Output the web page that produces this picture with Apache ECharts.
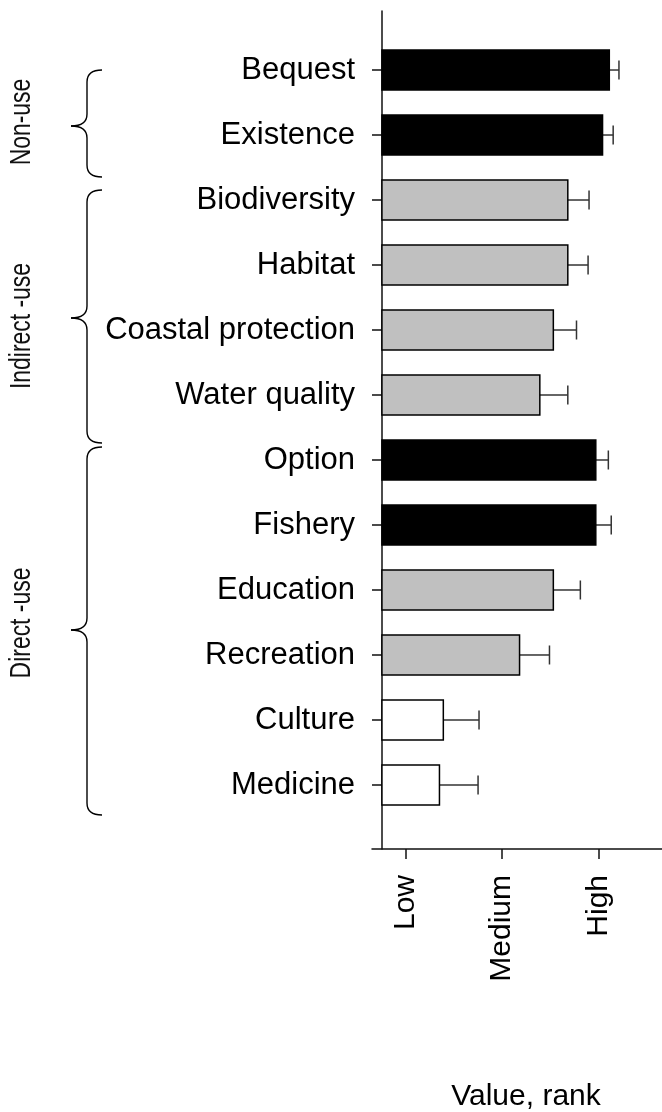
<!DOCTYPE html>
<html>
<head>
<meta charset="utf-8">
<script src="https://cdn.jsdelivr.net/npm/echarts@6/dist/echarts.min.js"></script>
<style>html,body{margin:0;padding:0;background:#fff;}#chart{width:662px;height:1112px;}</style>
</head>
<body>
<div id="chart"></div>
<script>
// ---- data ----
const categories = ['Bequest','Existence','Biodiversity','Habitat','Coastal protection','Water quality','Option','Fishery','Education','Recreation','Culture','Medicine'];
const values = [3.11, 3.04, 2.68, 2.68, 2.53, 2.39, 2.97, 2.97, 2.53, 2.18, 1.39, 1.35];
const errors = [0.10, 0.11, 0.22, 0.21, 0.24, 0.29, 0.13, 0.16, 0.28, 0.31, 0.37, 0.40];
const rankClass = ['high','high','mid','mid','mid','mid','high','high','mid','mid','low','low'];
const tickValues = [1, 2, 3];
const tickLabels = ['Low', 'Medium', 'High'];
const groups = ['Non-use', 'Indirect -use', 'Direct -use'];

const fills = {high: '#000000', mid: '#c0c0c0', low: '#ffffff'};
const BASE = 0.754;
const FONT = "'Liberation Sans', Arial, sans-serif";

const data = values.map((v, i) => [v, i, errors[i], i]);

const chart = echarts.init(document.getElementById('chart'), null, {renderer: 'canvas'});

function brace(y0, ym, y1) {
  const xl = 87, xr = 102, xt = 71, r = 12;
  const st = {stroke: '#000', lineWidth: 1.4, fill: null};
  return {type: 'group', children: [
    {type: 'bezierCurve', shape: {x1: xr, y1: y0, cpx1: xl, cpy1: y0, x2: xl, y2: y0 + r}, style: st},
    {type: 'line', shape: {x1: xl, y1: y0 + r, x2: xl, y2: ym - r}, style: st},
    {type: 'bezierCurve', shape: {x1: xl, y1: ym - r, cpx1: xl, cpy1: ym, x2: xt, y2: ym}, style: st},
    {type: 'bezierCurve', shape: {x1: xt, y1: ym, cpx1: xl, cpy1: ym, x2: xl, y2: ym + r}, style: st},
    {type: 'line', shape: {x1: xl, y1: ym + r, x2: xl, y2: y1 - r}, style: st},
    {type: 'bezierCurve', shape: {x1: xl, y1: y1 - r, cpx1: xl, cpy1: y1, x2: xr, y2: y1}, style: st}
  ]};
}

const braceSpecs = [
  {y0: 70, ym: 126, y1: 177, label: groups[0], ty: 122},
  {y0: 190, ym: 318, y1: 443, label: groups[1], ty: 326},
  {y0: 447, ym: 630, y1: 815, label: groups[2], ty: 623}
];

const graphics = [];
braceSpecs.forEach(b => {
  graphics.push(brace(b.y0, b.ym, b.y1));
  graphics.push({type: 'text', x: 22, y: b.ty, rotation: Math.PI / 2, scaleX: 0.79,
    style: {text: b.label, font: '29px ' + FONT, fill: '#111', textAlign: 'center', textVerticalAlign: 'middle'}});
});
graphics.push({type: 'text', x: 526, y: 1097,
  style: {text: 'Value, rank', font: '30px ' + FONT, fill: '#000', textAlign: 'center', textVerticalAlign: 'middle'}});

const option = {
  animation: false,
  backgroundColor: '#fff',
  grid: {left: 372, right: 0, top: 11, height: 838},
  xAxis: {
    type: 'value', min: 0.651, max: 3.656,
    splitLine: {show: false},
    axisLine: {show: true, onZero: false, lineStyle: {color: '#111', width: 1.5}},
    axisTick: {show: true, length: 10, customValues: tickValues, lineStyle: {color: '#111', width: 1.5}},
    axisLabel: {show: true, customValues: tickValues, rotate: 90, margin: 26,
      formatter: v => tickLabels[tickValues.indexOf(Math.round(v))] || '',
      fontSize: 30, fontFamily: FONT, color: '#000'}
  },
  yAxis: {
    type: 'value', inverse: true, min: -0.908, max: 11.985,
    position: 'left', offset: -10,
    splitLine: {show: false},
    axisLine: {show: true, onZero: false, lineStyle: {color: '#111', width: 1.5}},
    axisTick: {show: true, length: 10, customValues: categories.map((c, i) => i), lineStyle: {color: '#111', width: 1.5}},
    axisLabel: {show: true, customValues: categories.map((c, i) => i), margin: 27, padding: [8, 0, 0, 0],
      formatter: v => categories[Math.round(v)] || '',
      fontSize: 31, fontFamily: FONT, color: '#000'}
  },
  graphic: graphics,
  series: [{
    type: 'custom',
    data: data,
    encode: {x: 0, y: 1},
    renderItem: function (params, api) {
      const v = api.value(0), idx = api.value(1), e = api.value(2);
      const cls = rankClass[api.value(3)];
      const c = api.coord([v, idx]);
      const b = api.coord([BASE, idx]);
      const ee = api.coord([v + e, idx]);
      const h = Math.abs(api.size([0, 1])[1]) * 0.615;
      return {type: 'group', children: [
        {type: 'line', shape: {x1: c[0], y1: c[1], x2: ee[0], y2: c[1]}, style: {stroke: '#333', lineWidth: 1.5}},
        {type: 'line', shape: {x1: ee[0], y1: c[1] - 9.5, x2: ee[0], y2: c[1] + 9.5}, style: {stroke: '#333', lineWidth: 1.5}},
        {type: 'rect', shape: {x: b[0], y: c[1] - h / 2, width: c[0] - b[0], height: h},
          style: {fill: fills[cls], stroke: '#000', lineWidth: 1.5}}
      ]};
    }
  }]
};
chart.setOption(option);
</script>
</body>
</html>
